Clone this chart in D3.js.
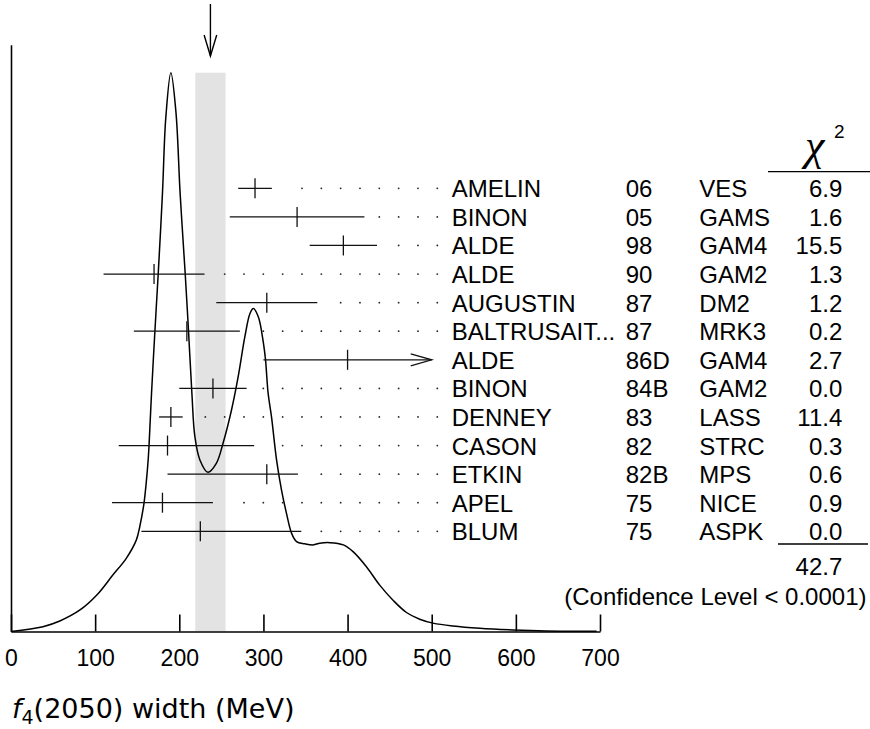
<!DOCTYPE html>
<html><head><meta charset="utf-8">
<script src="https://cdn.jsdelivr.net/npm/d3@7/dist/d3.min.js"></script>
<style>body{margin:0;background:#fff} svg{display:block}</style>
</head><body><svg id="c" width="870" height="729"></svg>
<script>
// ---- data ----
const names = ["AMELIN","BINON","ALDE","ALDE","AUGUSTIN","BALTRUSAIT...","ALDE","BINON","DENNEY","CASON","ETKIN","APEL","BLUM"];
const years = ["06","05","98","90","87","87","86D","84B","83","82","82B","75","75"];
const experiments = ["VES","GAMS","GAM4","GAM2","DM2","MRK3","GAM4","GAM2","LASS","STRC","MPS","NICE","ASPK"];
const chi2 = ["6.9","1.6","15.5","1.3","1.2","0.2","2.7","0.0","11.4","0.3","0.6","0.9","0.0"];
const centers = [290,340,395,170,304,209,400,240,190,186,304,180,225];
const lows    = [270,260,355,110,244,146,300,200,176,128,186,120,155];
const highs   = [310,420,435,230,364,272,500,280,204,289,341,240,345];
const arrowRight = [false,false,false,false,false,false,true,false,false,false,false,false,false];
const curveX = [0,38,58,82,102,121,137,149,153,158,161,163,164,167,171,175,180,184,190,196,201,207,211,215,218.5,224.5,234,244,252,262,270,278,284,288,294,300,302.5,305.6,309.6,315.6,321.5,327.4,333.4,339.3,349,359,367,379,395,406.5,422.4,438.2,454,470,485.7,501.5,525.3,557,596.6,636,696];
const curveY = [0,0.0086,0.0188,0.0385,0.0653,0.101,0.131,0.164,0.1875,0.229,0.271,0.307,0.331,0.426,0.537,0.641,0.784,0.92,1.0,0.93,0.784,0.641,0.537,0.426,0.349,0.307,0.285,0.301,0.337,0.396,0.456,0.528,0.569,0.578,0.563,0.516,0.486,0.426,0.384,0.307,0.253,0.2115,0.176,0.161,0.157,0.155,0.158,0.159,0.155,0.143,0.116,0.083,0.056,0.034,0.022,0.015,0.0098,0.0057,0.0027,0.0009,0.0004];
const xTicks = [0,100,200,300,400,500,600,700];
const avgValue = 237, avgLow = 219, avgHigh = 255;
const chi2Total = "42.7";
const confText = "(Confidence Level < 0.0001)";

// ---- drawing ----
const svg = d3.select("#c");
const sans = "'Liberation Sans', Arial, Helvetica, sans-serif";
const x = d3.scaleLinear().domain([0,700]).range([11,600]);
const y = d3.scaleLinear().domain([0,1]).range([631.5,72.7]);
const row = d3.scalePoint().domain(d3.range(names.length)).range([188.3,531.3]);

// band
svg.append("rect").attr("x", x(avgLow)).attr("width", x(avgHigh)-x(avgLow))
  .attr("y", y(1)).attr("height", y(0)-y(1)).attr("fill","#e3e3e3");

// axes
const xAxis = d3.axisBottom(x).tickValues(xTicks).tickSizeInner(-17).tickSizeOuter(0).tickPadding(18);
const gx = svg.append("g").attr("transform",`translate(0,${y(0)})`).call(xAxis);
gx.selectAll("path,line").attr("stroke","#000").attr("stroke-width",1.6);
gx.selectAll("text").attr("font-family",sans).attr("font-size",23).attr("fill","#000");
const yAx = y.copy().domain([0,1.05]).range([y(0), y(1.05)]);
const gy = svg.append("g").attr("transform",`translate(${x(0)},0)`).call(d3.axisLeft(yAx).tickValues([]).tickSizeOuter(0));
gy.selectAll("path").attr("stroke","#000").attr("stroke-width",1.6);

// curve
svg.append("path").datum(curveX.map((v,i)=>[v,curveY[i]]))
  .attr("d", d3.line().x(d=>x(d[0])).y(d=>y(d[1])).curve(d3.curveCatmullRom.alpha(0.5)))
  .attr("fill","none").attr("stroke","#000").attr("stroke-width",1.5);

// error bars
const g = svg.append("g").attr("stroke","#111").attr("stroke-width",1.3).attr("fill","none");
names.forEach((n,i)=>{
  const ry = row(i);
  g.append("line").attr("x1",x(lows[i])).attr("x2",x(highs[i])).attr("y1",ry).attr("y2",ry);
  g.append("line").attr("x1",x(centers[i])).attr("x2",x(centers[i])).attr("y1",ry-10).attr("y2",ry+10);
  if (arrowRight[i]) {
    const xe = x(highs[i]);
    g.append("path").attr("d",`M${xe-21},${ry-6}L${xe},${ry}L${xe-21},${ry+6}`);
  }
  // dotted leaders
  for (let k=0;k<20;k++){
    const px = 437.3 - k*19.33;
    if (px > x(highs[i]) + 13) {
      svg.append("circle").attr("cx",px).attr("cy",ry).attr("r",0.9).attr("fill","#222");
    }
  }
  const t = svg.append("g").attr("font-family",sans).attr("font-size",24).attr("fill","#000");
  t.append("text").attr("x",451.7).attr("y",ry+9).text(n);
  t.append("text").attr("x",625.7).attr("y",ry+9).text(years[i]);
  t.append("text").attr("x",699.3).attr("y",ry+9).text(experiments[i]);
  t.append("text").attr("x",842.3).attr("y",ry+9).attr("text-anchor","end").text(chi2[i]);
});

// top arrow
const ax = x(avgValue);
svg.append("line").attr("x1",ax).attr("x2",ax).attr("y1",4).attr("y2",56).attr("stroke","#000").attr("stroke-width",1.4);
svg.append("path").attr("d",`M${ax-6.3},35L${ax},56L${ax+6.3},35`).attr("fill","none").attr("stroke","#000").attr("stroke-width",1.4);

// chi2 header
svg.append("text").attr("x",805).attr("y",160).attr("font-family","'Liberation Serif', serif")
  .attr("font-style","italic").attr("font-size",44).text("χ");
svg.append("text").attr("x",834).attr("y",138).attr("font-family",sans).attr("font-size",19).text("2");
svg.append("line").attr("x1",768).attr("x2",870).attr("y1",171.7).attr("y2",171.7).attr("stroke","#000").attr("stroke-width",1.3);
svg.append("line").attr("x1",778).attr("x2",868).attr("y1",544).attr("y2",544).attr("stroke","#000").attr("stroke-width",1.3);
svg.append("text").attr("x",842.3).attr("y",575).attr("text-anchor","end").attr("font-family",sans).attr("font-size",24).text(chi2Total);
svg.append("text").attr("x",866.5).attr("y",605).attr("text-anchor","end").attr("font-family",sans).attr("font-size",24).text(confText);

// x label
const xl = svg.append("text").attr("x",12).attr("y",718).attr("font-family","'DejaVu Sans', sans-serif").attr("font-size",27);
xl.append("tspan").attr("font-style","italic").text("f");
xl.append("tspan").attr("font-size",19).attr("dy",6).text("4");
xl.append("tspan").attr("dy",-6).text("(2050) width (MeV)");
</script></body></html>
